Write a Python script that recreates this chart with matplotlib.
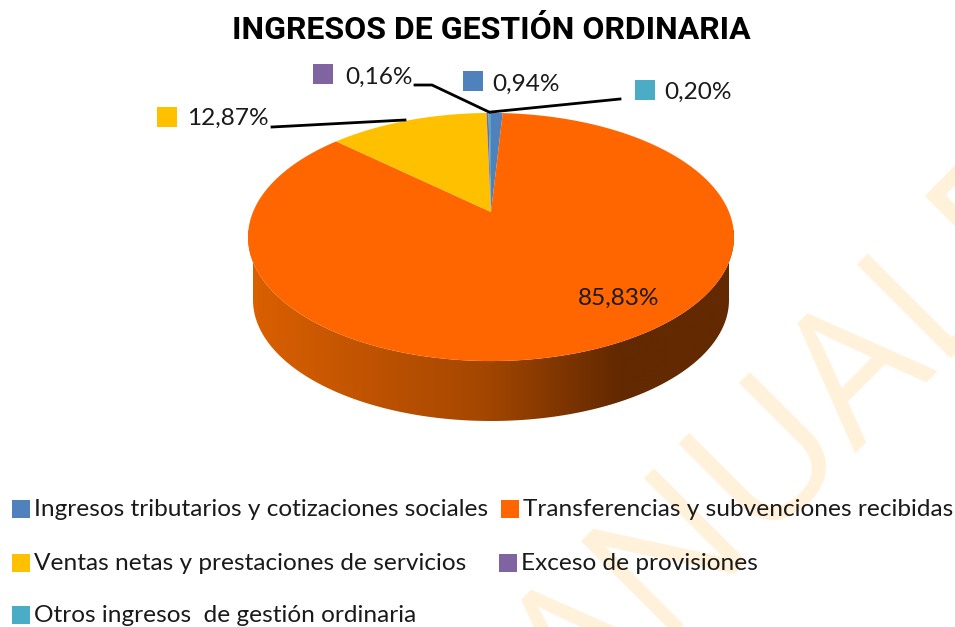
import numpy as np
import matplotlib
matplotlib.use('Agg')
import matplotlib.pyplot as plt
from matplotlib.colors import LinearSegmentedColormap
from matplotlib.patches import Polygon

categorias = ['Ingresos tributarios y cotizaciones sociales',
              'Transferencias y subvenciones recibidas',
              'Ventas netas y prestaciones de servicios',
              'Exceso de provisiones',
              'Otros ingresos  de gestión ordinaria']
valores = [0.94, 85.83, 12.87, 0.16, 0.20]
etiquetas = ['0,94%', '85,83%', '12,87%', '0,16%', '0,20%']
colores = ['#4F81BD', '#FF6600', '#FFC000', '#8064A2', '#4BACC6']

# centro y perspectiva de la tarta, en pixeles
cx, cy = 491, 212
k, a, p = 119, 238, 0.2016


def proyectar(theta):
    u, v = np.sin(theta), np.cos(theta)
    d = 1 + p * v
    return cx + a * u / d, cy - k * v / d


fig = plt.figure(figsize=(9.55, 6.27), dpi=100)
ax = fig.add_axes([0, 0, 1, 1])
ax.set_xlim(0, 955)
ax.set_ylim(627, 0)
ax.axis('off')

# marca de agua
ax.text(580, 730, 'ANUALE', rotation=45, rotation_mode='anchor', ha='left', va='baseline',
        fontsize=133, color='#FFF1DA', family='Open Sans', zorder=0)

# lateral de la tarta
t = np.linspace(np.pi / 2, 3 * np.pi / 2, 200)
xs, ys = proyectar(t)
xb = 491 + 238 * np.cos(np.linspace(0, np.pi, 200))
yb = 300 + 121 * np.sin(np.linspace(0, np.pi, 200))
puntos = np.vstack([np.column_stack([xs, ys]), np.column_stack([xb[::-1], yb[::-1]])])
grad = LinearSegmentedColormap.from_list('lateral', [(0, '#DB6000'), (0.48, '#A54700'),
                                                     (0.76, '#632900'), (1, '#632900')])
im = ax.imshow(np.linspace(0, 1, 256).reshape(1, -1), extent=(248, 735, 425, 230), cmap=grad,
               aspect='auto', zorder=1)
im.set_clip_path(Polygon(puntos, closed=True, transform=ax.transData))
ax.set_xlim(0, 955)
ax.set_ylim(627, 0)

# sectores, en sentido horario desde arriba
angulos = np.cumsum([0] + valores) / sum(valores) * 2 * np.pi
for i in range(len(valores)):
    th = np.linspace(angulos[i], angulos[i + 1], 300)
    x, y = proyectar(th)
    ax.fill(np.r_[cx, x], np.r_[cy, y], color=colores[i], lw=0, zorder=2)

# lineas guia
guias = [[(272, 127), (405, 120)],
         [(415, 85), (432, 85), (489, 112)],
         [(491, 112), (620, 99)]]
for g in guias:
    gx, gy = zip(*g)
    ax.plot(gx, gy, color='black', lw=2, zorder=3)

# etiquetas de datos
txt = dict(family='Lato', fontsize=17.6, color='#1a1a1a', va='center', zorder=4)
ax.text(526, 84, etiquetas[0], ha='center', **txt)
ax.text(619, 298, etiquetas[1], ha='center', **txt)
ax.text(228, 118, etiquetas[2], ha='center', **txt)
ax.text(379, 77, etiquetas[3], ha='center', **txt)
ax.text(698, 92, etiquetas[4], ha='center', **txt)

cuadros = [(473, 81), None, (167, 117), (323, 74), (645, 90)]
for c, col in zip(cuadros, colores):
    if c:
        ax.scatter(*c, marker='s', s=200, color=col, lw=0, zorder=4)

ax.text(491, 30, 'INGRESOS DE GESTIÓN ORDINARIA', ha='center', va='center',
        family='Roboto', fontweight='bold', fontsize=23, color='black', zorder=4)

# leyenda
pos_ley = [(21, 509), (510, 509), (21, 563), (508, 563), (21, 615)]
for (lx, ly), nombre, col in zip(pos_ley, categorias, colores):
    ax.scatter(lx, ly, marker='s', s=165, color=col, lw=0, zorder=4)
    ax.text(lx + 13, ly + 1, nombre, family='Lato', fontsize=17.6, color='#1a1a1a', va='center', zorder=4)

fig.savefig('out.png', dpi=100)
